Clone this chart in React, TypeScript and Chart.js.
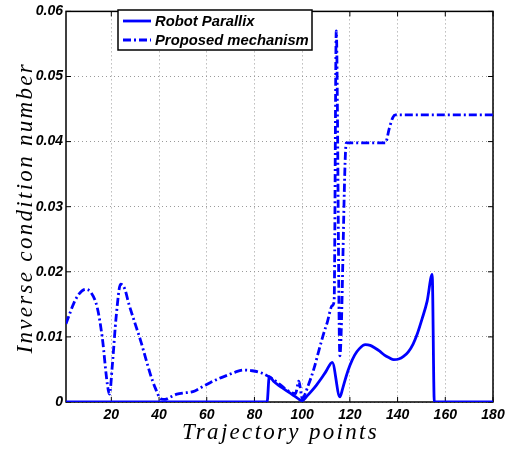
import React, { useEffect, useRef } from "react";
import { Chart, registerables } from "chart.js";

Chart.register(...registerables);

const xTicks = [20, 40, 60, 80, 100, 120, 140, 160, 180];
const yTicks = [0, 0.01, 0.02, 0.03, 0.04, 0.05, 0.06];
const seriesNames = ["Robot Parallix", "Proposed mechanism"];
const xTitle = "Trajectory points";
const yTitle = "Inverse condition number";

const parallixX = [1, 85.3, 86.2, 88, 90, 92, 94, 96, 98, 100, 102, 104, 106, 108, 110, 112.6, 115.8, 117, 118.5, 120, 122, 124, 126.5, 128.5, 130.5, 132.5, 134.5, 136.5, 138.4, 140.5, 142.5, 144.5, 146.5, 148.2, 150.3, 152.4, 154.5, 155.4, 180];
const parallixY = [0, 0, 0.0039, 0.0032, 0.0026, 0.0021, 0.0016, 0.0011, 0.0006, 0.0002, 0.0009, 0.0017, 0.0026, 0.0036, 0.0047, 0.0061, 0.0008, 0.0021, 0.004, 0.0056, 0.0072, 0.0082, 0.0088, 0.0087, 0.0083, 0.0078, 0.0072, 0.0068, 0.0065, 0.0066, 0.007, 0.0077, 0.0089, 0.0104, 0.0128, 0.0155, 0.0196, 0, 0];

const proposedX = [1, 2.5, 4.3, 6.5, 9.2, 11.5, 14.1, 16.2, 18.3, 19.2, 20.5, 22, 23.9, 25.5, 27.4, 30, 32.3, 34.5, 36.5, 38.5, 40.7, 42.5, 45, 47.5, 50.5, 53, 55, 58, 61.6, 65, 68.6, 72, 75.6, 79, 82.6, 86, 90, 93.7, 97.2, 98.6, 100, 102.8, 105, 107, 109, 110.5, 112.6, 113.4, 114.3, 115.8, 118.5, 134.9, 136.5, 138, 139.1, 180];
const proposedY = [0.012, 0.0135, 0.0152, 0.0166, 0.0173, 0.0168, 0.0145, 0.0099, 0.0028, 0.0012, 0.006, 0.013, 0.0181, 0.0175, 0.015, 0.012, 0.0094, 0.0066, 0.0041, 0.0021, 0.0005, 0.0004, 0.0008, 0.0012, 0.0014, 0.0015, 0.0017, 0.0023, 0.003, 0.0036, 0.0041, 0.0046, 0.0049, 0.0048, 0.0045, 0.0039, 0.0029, 0.0018, 0.0013, 0.0032, 0.0006, 0.0028, 0.0052, 0.0079, 0.0105, 0.0122, 0.0148, 0.0155, 0.057, 0.0071, 0.0398, 0.0398, 0.042, 0.0437, 0.0441, 0.0441];

const BLUE = "#0000ff";
const DASHDOT = [8, 3, 2, 3];
const tickFont = { family: '"Liberation Sans", Arial, sans-serif', size: 14, style: "italic" as const, weight: "bold" as const };

const framePlugin = {
  id: "frame",
  beforeDatasetsDraw(chart: any) {
    const { ctx, chartArea: a, scales } = chart;
    ctx.save();
    ctx.strokeStyle = "#000";
    ctx.lineWidth = 1.5;
    ctx.strokeRect(a.left, a.top, a.right - a.left, a.bottom - a.top);
    ctx.lineWidth = 1;
    const L = 5;
    ctx.beginPath();
    xTicks.forEach((v) => {
      const px = scales.x.getPixelForValue(v);
      ctx.moveTo(px, a.bottom);
      ctx.lineTo(px, a.bottom - L);
      ctx.moveTo(px, a.top);
      ctx.lineTo(px, a.top + L);
    });
    yTicks.forEach((v) => {
      const py = scales.y.getPixelForValue(v);
      ctx.moveTo(a.left, py);
      ctx.lineTo(a.left + L, py);
      ctx.moveTo(a.right, py);
      ctx.lineTo(a.right - L, py);
    });
    ctx.stroke();
    ctx.restore();
  },
  afterDraw(chart: any) {
    const { ctx, chartArea: a } = chart;
    ctx.save();
    // axis titles
    ctx.fillStyle = "#000";
    ctx.font = 'italic 23px "Liberation Serif", "Times New Roman", serif';
    (ctx as any).letterSpacing = "2.3px";
    ctx.textAlign = "center";
    ctx.textBaseline = "alphabetic";
    ctx.fillText(xTitle, (a.left + a.right) / 2 + 1, 439);
    ctx.translate(32, (a.top + a.bottom) / 2 + 1);
    ctx.rotate(-Math.PI / 2);
    ctx.fillText(yTitle, 0, 0);
    ctx.restore();

    // legend
    ctx.save();
    const bx = 118, by = 10, bw = 194, bh = 40;
    ctx.fillStyle = "#fff";
    ctx.fillRect(bx, by, bw, bh);
    ctx.strokeStyle = "#000";
    ctx.lineWidth = 1.5;
    ctx.strokeRect(bx, by, bw, bh);
    const rows = [21, 40];
    chart.data.datasets.forEach((ds: any, i: number) => {
      const y = rows[i];
      ctx.strokeStyle = ds.borderColor;
      ctx.lineWidth = ds.borderWidth;
      ctx.setLineDash(ds.borderDash || []);
      ctx.beginPath();
      ctx.moveTo(123, y);
      ctx.lineTo(151, y);
      ctx.stroke();
      ctx.setLineDash([]);
      ctx.fillStyle = "#000";
      ctx.font = 'italic bold 14.8px "Liberation Sans", Arial, sans-serif';
      ctx.textAlign = "left";
      ctx.textBaseline = "middle";
      ctx.fillText(ds.label, 155, y + 1);
    });
    ctx.restore();
  },
};

export default function App() {
  const ref = useRef<HTMLCanvasElement | null>(null);
  useEffect(() => {
    document.body.style.margin = "0";
    const canvas = ref.current;
    if (!canvas) return;
    const chart = new Chart(canvas, {
      type: "line",
      data: {
        datasets: [
          {
            label: seriesNames[0],
            data: parallixX.map((x, i) => ({ x, y: parallixY[i] })),
            borderColor: BLUE,
            borderWidth: 2.8,
            pointRadius: 0,
            fill: false,
            cubicInterpolationMode: "monotone",
          },
          {
            label: seriesNames[1],
            data: proposedX.map((x, i) => ({ x, y: proposedY[i] })),
            borderColor: BLUE,
            borderWidth: 2.8,
            borderDash: DASHDOT,
            pointRadius: 0,
            fill: false,
            cubicInterpolationMode: "monotone",
          },
        ],
      },
      options: {
        animation: false,
        responsive: false,
        maintainAspectRatio: false,
        layout: { padding: { top: 10, right: 21, left: 0, bottom: 0 } },
        plugins: { legend: { display: false }, tooltip: { enabled: false } },
        scales: {
          x: {
            type: "linear",
            min: 1,
            max: 180,
            afterBuildTicks: (s: any) => {
              s.ticks = xTicks.map((v) => ({ value: v }));
            },
            afterFit: (s: any) => {
              s.height = 48;
            },
            grid: { color: "#9a9a9a", lineWidth: 1, drawTicks: false },
            border: { display: false, dash: [1, 3] },
            ticks: {
              color: "#000",
              font: tickFont,
              padding: 5,
              maxRotation: 0,
              autoSkip: false,
              callback: (v: any) => String(v),
            },
          },
          y: {
            type: "linear",
            min: 0,
            max: 0.06,
            afterBuildTicks: (s: any) => {
              s.ticks = yTicks.map((v) => ({ value: v }));
            },
            afterFit: (s: any) => {
              s.width = 66;
            },
            grid: { color: "#9a9a9a", lineWidth: 1, drawTicks: false },
            border: { display: false, dash: [1, 3] },
            ticks: {
              color: "#000",
              font: tickFont,
              padding: 3,
              autoSkip: false,
              callback: (v: any) => (Number(v) === 0 ? "0" : Number(v).toFixed(2)),
            },
          },
        },
      },
      plugins: [framePlugin],
    });
    return () => chart.destroy();
  }, []);
  return (
    <div style={{ position: "absolute", left: 0, top: 0, width: 514, height: 450, background: "#fff" }}>
      <canvas ref={ref} width={514} height={450} />
    </div>
  );
}
